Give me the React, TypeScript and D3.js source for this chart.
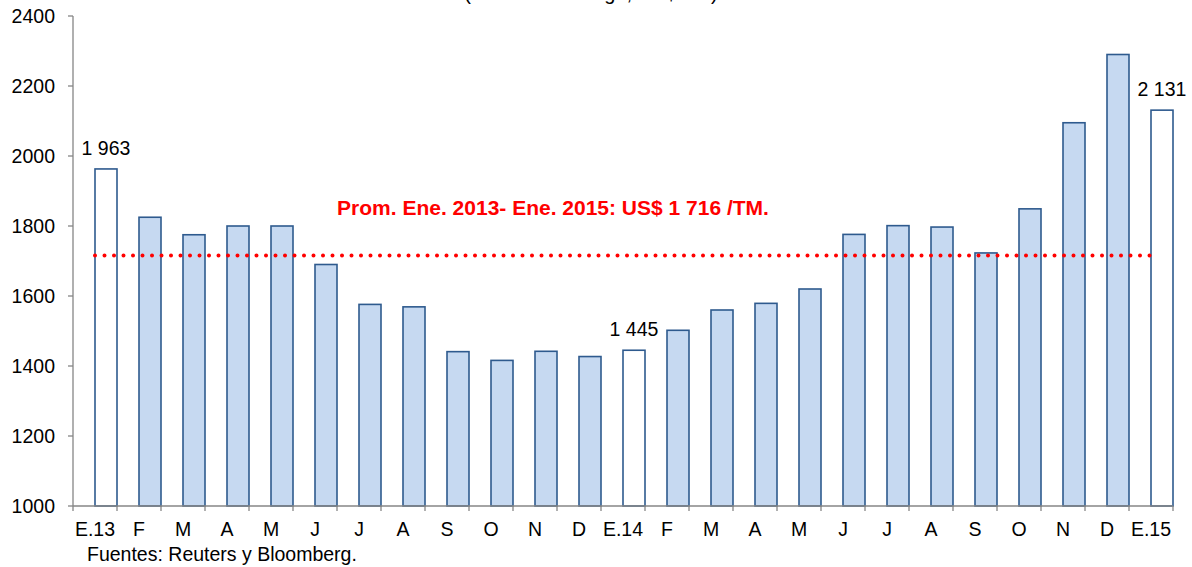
import React from "react";
import * as d3 from "d3";

const categories = ["E.13","F","M","A","M","J","J","A","S","O","N","D","E.14","F","M","A","M","J","J","A","S","O","N","D","E.15"];
const values = [1963,1825,1775,1800,1800,1690,1576,1569,1441,1416,1442,1427,1445,1502,1560,1579,1620,1776,1801,1797,1723,1849,2095,2290,2131];
const highlighted = [0, 12, 24];
const labelled = [0, 12, 24];
const labelTexts = ["1 963", "1 445", "2 131"];
const yTicks = [1000,1200,1400,1600,1800,2000,2200,2400];
const average = 1716;
const averageLabel = "Prom. Ene. 2013- Ene. 2015: US$ 1 716 /TM.";
const titleFragment = "(Precio Hamburgo, US$/TM)";
const sourceNote = "Fuentes: Reuters y Bloomberg.";

export default function App() {
  const W = 1192, H = 567;
  const left = 73, right = 1173, top = 16, bottom = 506;
  const y = d3.scaleLinear().domain([1000, 2400]).range([bottom, top]);
  const x = d3.scaleBand<number>().domain(d3.range(categories.length)).range([left, right]).padding(0);
  const bw = x.bandwidth();
  const font = "Arial, 'Liberation Sans', sans-serif";
  const axisColor = "#868686";
  const fs = 19.5;

  return (
    <svg width={W} height={H} style={{ position: "fixed", left: 0, top: 0, background: "#fff" }} fontFamily={font}>
      <rect x={0} y={0} width={W} height={H} fill="#fff" />
      <text x={591} y={0} textAnchor="middle" fontSize={20}>{titleFragment}</text>

      {/* y axis */}
      <line x1={left} x2={left} y1={top} y2={bottom} stroke={axisColor} strokeWidth={1.3} />
      {yTicks.map((t) => (
        <g key={t}>
          <line x1={left - 5} x2={left} y1={y(t)} y2={y(t)} stroke={axisColor} strokeWidth={1.3} />
          <text x={55} y={y(t)} dy="0.35em" textAnchor="end" fontSize={fs} fill="#000">{t}</text>
        </g>
      ))}

      {/* bars */}
      {values.map((v, i) => (
        <rect key={i}
          x={(x(i) as number) + bw / 2}
          y={y(v)}
          width={bw / 2}
          height={bottom - y(v)}
          fill={highlighted.includes(i) ? "#FFFFFF" : "#C6D9F1"}
          stroke="#2E5A8E" strokeWidth={1.6} />
      ))}

      {/* x axis */}
      <line x1={left} x2={right} y1={bottom} y2={bottom} stroke={axisColor} strokeWidth={1.3} />
      {d3.range(categories.length + 1).map((i) => {
        const xx = i < categories.length ? (x(i) as number) : right;
        return <line key={i} x1={xx} x2={xx} y1={bottom} y2={bottom + 5} stroke={axisColor} strokeWidth={1.3} />;
      })}
      {categories.map((c, i) => (
        <text key={i} x={(x(i) as number) + bw / 2} y={536} textAnchor="middle" fontSize={fs} fill="#000">{c}</text>
      ))}

      {/* average line */}
      <line x1={(x(0) as number) + bw / 2} x2={(x(categories.length - 1) as number) + bw / 2}
        y1={y(average)} y2={y(average)} stroke="#FF0000" strokeWidth={4}
        strokeDasharray="0 9.5" strokeLinecap="round" />
      <text x={553} y={215} textAnchor="middle" fontSize={21} fontWeight="bold" fill="#FF0000">{averageLabel}</text>

      {/* data labels */}
      {labelled.map((i, k) => (
        <text key={i} x={(x(i) as number) + bw * 0.75} y={y(values[i]) - 14} textAnchor="middle" fontSize={fs} fill="#000">{labelTexts[k]}</text>
      ))}

      <text x={87} y={561} fontSize={fs} fill="#000">{sourceNote}</text>
    </svg>
  );
}
